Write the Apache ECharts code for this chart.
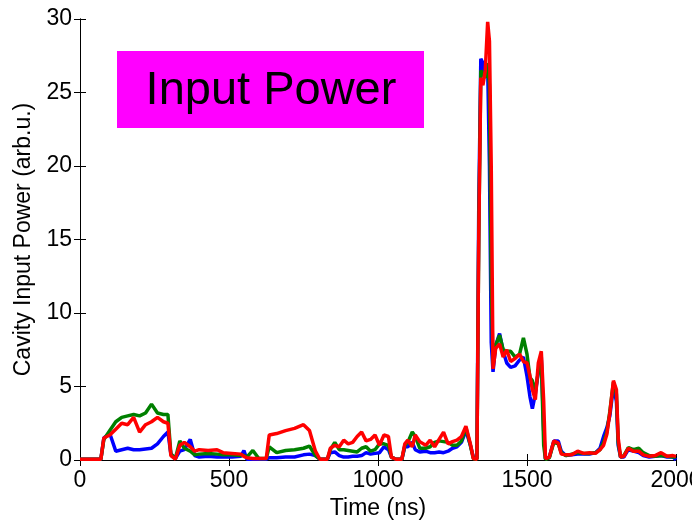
<!DOCTYPE html>
<html>
<head>
<meta charset="utf-8">
<script src="https://cdn.jsdelivr.net/npm/echarts@6/dist/echarts.min.js"></script>
<style>
  html, body { margin: 0; padding: 0; background: #fff; }
  #chart { width: 692px; height: 522px; }
</style>
</head>
<body>
<div id="chart"></div>
<script>
// time axis (ns), shared by the three traces
const timeNs = [0, 70, 80, 100, 120, 140, 160, 180, 200, 220, 240, 260, 280, 295, 305, 320, 335, 350, 370, 385,
  400, 430, 460, 480, 510, 540, 550, 560, 580, 600, 625, 635, 660, 690, 720, 750, 770, 790, 805, 830,
  840, 855, 870, 885, 900, 915, 930, 945, 960, 975, 990, 1005, 1020, 1035, 1045, 1060, 1080, 1090, 1100, 1115,
  1125, 1140, 1160, 1175, 1190, 1205, 1220, 1235, 1250, 1265, 1280, 1295, 1310, 1320, 1332, 1338, 1345, 1352, 1360, 1368,
  1374, 1380, 1386, 1395, 1408, 1420, 1432, 1445, 1460, 1475, 1488, 1500, 1510, 1518, 1528, 1538, 1548, 1556, 1562, 1575,
  1590, 1605, 1615, 1630, 1650, 1670, 1690, 1710, 1730, 1745, 1757, 1768, 1778, 1790, 1800, 1806, 1814, 1825, 1840, 1857,
  1875, 1890, 1910, 1930, 1950, 1970, 1990, 2000];

const redPower = [0.05, 0.05, 1.5, 1.7, 2.1, 2.5, 2.4, 2.9, 1.9, 2.4, 2.6, 2.9, 2.6, 2.5, 0.3, 0.05, 1.0, 1.2, 0.9, 0.6,
  0.7, 0.65, 0.7, 0.5, 0.45, 0.4, 0.25, 0.15, 0.1, 0.1, 0.1, 1.7, 1.8, 2.0, 2.15, 2.4, 2.0, 0.6, 0.05, 0.05,
  0.8, 1.0, 0.9, 1.35, 1.1, 1.2, 1.6, 1.9, 1.3, 1.4, 1.7, 1.0, 1.7, 1.6, 0.2, 0.05, 0.05, 1.1, 1.35, 0.9,
  1.7, 1.25, 1.0, 1.35, 0.9, 1.4, 1.9, 1.1, 1.25, 1.35, 1.6, 2.3, 1.1, 0.1, 0.05, 15, 26.0, 25.5, 26.5, 29.8,
  28.5, 20, 6.2, 7.6, 7.9, 7.0, 7.5, 6.7, 6.9, 7.2, 6.7, 6.6, 5.7, 4.8, 4.1, 6.6, 7.4, 4.0, 0.1, 0.2,
  1.3, 1.15, 0.4, 0.35, 0.35, 0.6, 0.45, 0.5, 0.45, 0.7, 1.0, 1.75, 3.2, 5.4, 4.8, 1.5, 0.2, 0.25, 0.8, 0.6,
  0.6, 0.35, 0.25, 0.3, 0.5, 0.25, 0.3, 0.25];

const greenPower = [0.05, 0.05, 1.4, 2.0, 2.6, 2.9, 3.0, 3.1, 3.0, 3.2, 3.8, 3.2, 3.1, 3.1, 0.4, 0.1, 1.3, 0.8, 0.6, 0.35,
  0.4, 0.45, 0.4, 0.35, 0.35, 0.3, 0.3, 0.2, 0.65, 0.1, 0.1, 0.9, 0.5, 0.65, 0.7, 0.8, 0.95, 0.3, 0.05, 0.05,
  0.7, 1.2, 0.7, 0.7, 0.65, 0.6, 0.55, 0.8, 0.9, 0.6, 0.7, 1.1, 1.1, 1.0, 0.2, 0.05, 0.05, 1.0, 1.2, 1.9,
  1.6, 0.8, 0.8, 0.9, 1.2, 1.3, 1.25, 1.2, 1.0, 1.0, 1.3, 2.2, 1.0, 0.1, 0.05, 15, 26.5, 26.3, 26.0, 27.0,
  25.5, 12, 6.5, 7.8, 8.5, 7.5, 7.4, 7.4, 7.0, 7.2, 8.3, 7.2, 5.6, 5.4, 4.7, 6.0, 6.8, 1.0, 0.05, 0.15,
  1.2, 1.1, 0.5, 0.3, 0.4, 0.5, 0.45, 0.45, 0.5, 0.7, 1.2, 1.9, 3.3, 5.3, 4.5, 1.2, 0.2, 0.3, 0.85, 0.7,
  0.8, 0.5, 0.3, 0.25, 0.3, 0.25, 0.2, 0.2];

const bluePower = [0.05, 0.05, 1.5, 1.8, 0.6, 0.7, 0.8, 0.7, 0.7, 0.75, 0.8, 1.1, 1.6, 1.9, 0.4, 0.1, 0.6, 0.7, 1.4, 0.3,
  0.2, 0.25, 0.2, 0.2, 0.2, 0.25, 0.65, 0.05, 0.05, 0.05, 0.05, 0.15, 0.15, 0.2, 0.2, 0.35, 0.4, 0.3, 0.05, 0.05,
  0.5, 0.55, 0.3, 0.2, 0.2, 0.25, 0.25, 0.3, 0.5, 0.4, 0.45, 0.5, 0.9, 0.7, 0.2, 0.05, 0.05, 0.9, 0.9, 1.2,
  0.7, 0.55, 0.6, 0.5, 0.5, 0.55, 0.5, 0.6, 0.8, 0.9, 1.2, 2.0, 1.0, 0.2, 0.1, 17, 27.3, 27.0, 26.0, 26.8,
  20, 8, 6.0, 7.8, 8.6, 7.4, 6.6, 6.3, 6.4, 6.8, 7.0, 5.7, 4.3, 3.5, 4.5, 6.0, 7.0, 2.0, 0.1, 0.2,
  1.3, 1.3, 0.6, 0.3, 0.35, 0.4, 0.4, 0.4, 0.5, 0.8, 1.6, 2.2, 3.0, 5.0, 4.0, 1.0, 0.2, 0.2, 0.7, 0.6,
  0.5, 0.3, 0.2, 0.25, 0.3, 0.2, 0.2, 0.0];

const xTicks = { min: 0, max: 2000, interval: 500 };
const yTicks = { min: 0, max: 30, interval: 5 };

const chart = echarts.init(document.getElementById('chart'));

const font = 'Liberation Sans, Arial, Helvetica, sans-serif';

function pairs(vals) {
  return timeNs.map((t, i) => [t, vals[i]]);
}

const boxAxisLine = { show: true, lineStyle: { color: '#000', width: 1 } };
const plainNum = v => String(v);

const option = {
  animation: false,
  backgroundColor: '#fff',
  grid: { left: 80, right: 16, top: 19, bottom: 62, outerBoundsMode: 'none', containLabel: false },
  graphic: [
    {
      type: 'rect',
      x: 117, y: 51,
      shape: { x: 0, y: 0, width: 307, height: 77 },
      style: { fill: '#ff00ff' },
      z: 10
    },
    {
      type: 'text',
      x: 271, y: 91,
      style: { text: 'Input Power', font: '47px ' + font, fill: '#000', align: 'center', verticalAlign: 'middle' },
      z: 11
    }
  ],
  xAxis: [
    {
      type: 'value', min: xTicks.min, max: xTicks.max, interval: xTicks.interval,
      name: 'Time (ns)', nameLocation: 'middle', nameGap: 36,
      nameTextStyle: { fontSize: 23, color: '#000', fontFamily: font },
      axisLine: boxAxisLine,
      axisTick: { inside: true, length: 6, lineStyle: { color: '#000' } },
      axisLabel: { fontSize: 23, color: '#000', fontFamily: font, margin: 9, formatter: plainNum },
      splitLine: { show: false }
    },
    {
      type: 'value', position: 'top', min: xTicks.min, max: xTicks.max, interval: xTicks.interval,
      axisLine: boxAxisLine,
      axisTick: { inside: true, length: 6, lineStyle: { color: '#000' } },
      axisLabel: { show: false },
      splitLine: { show: false }
    }
  ],
  yAxis: [
    {
      type: 'value', min: yTicks.min, max: yTicks.max, interval: yTicks.interval,
      name: 'Cavity Input Power (arb.u.)', nameLocation: 'middle', nameGap: 44,
      nameTextStyle: { fontSize: 23, color: '#000', fontFamily: font },
      axisLine: boxAxisLine,
      axisTick: { inside: true, length: 6, lineStyle: { color: '#000' } },
      axisLabel: { fontSize: 23, color: '#000', fontFamily: font, margin: 8, formatter: plainNum },
      splitLine: { show: false }
    },
    {
      type: 'value', position: 'right', min: yTicks.min, max: yTicks.max, interval: yTicks.interval,
      axisLine: boxAxisLine,
      axisTick: { inside: true, length: 6, lineStyle: { color: '#000' } },
      axisLabel: { show: false },
      splitLine: { show: false }
    }
  ],
  series: [
    { name: 'blue', type: 'line', showSymbol: false, data: pairs(bluePower),
      lineStyle: { color: '#0000ff', width: 3.5 }, itemStyle: { color: '#0000ff' } },
    { name: 'green', type: 'line', showSymbol: false, data: pairs(greenPower),
      lineStyle: { color: '#008000', width: 3.5 }, itemStyle: { color: '#008000' } },
    { name: 'red', type: 'line', showSymbol: false, data: pairs(redPower),
      lineStyle: { color: '#ff0000', width: 3.5 }, itemStyle: { color: '#ff0000' } }
  ]
};

chart.setOption(option);
</script>
</body>
</html>
